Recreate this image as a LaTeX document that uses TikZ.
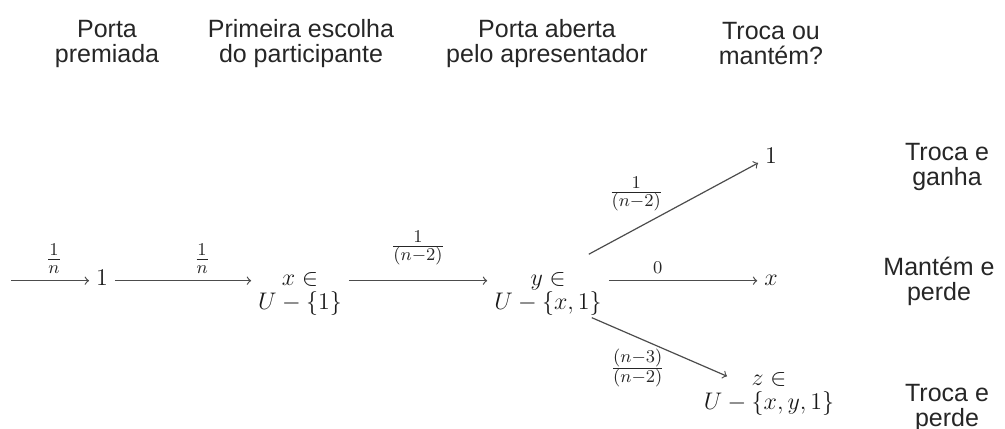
\documentclass[tikz,border=0pt]{standalone}
\usepackage[no-math]{fontspec}
\newfontfamily\hdrfont{Liberation Sans}
\begin{document}
\begin{tikzpicture}[x=0.5pt,y=-0.5pt,
  hdr/.style={font=\hdrfont\fontsize{12.5}{12.5}\selectfont, align=center, text=black!85, inner sep=0pt},
  mth/.style={font=\fontsize{13}{10.5}\selectfont, text=black!90},
  arr/.style={->, draw=black!70, line width=0.6pt},
  lbl/.style={font=\fontsize{13}{13}\selectfont, text=black!85}]
\useasboundingbox (0,0) rectangle (1005,428);
% headers (base anchor = baseline of the last line)
\node[hdr, anchor=base] (h1) at (107,62) {Porta\\premiada};
\node[hdr, anchor=base] (h2) at (301,62) {Primeira escolha\\do participante};
\node[hdr, anchor=base] (h3) at (547,62) {Porta aberta\\pelo apresentador};
\node[hdr, anchor=base] (h4) at (771,64) {Troca ou\\mantém?};
% outcomes
\node[hdr, anchor=base] (r1) at (947,185) {Troca e\\ganha};
\node[hdr, anchor=base] (r2) at (939,300) {Mantém e\\perde};
\node[hdr, anchor=base] (r3) at (947,426) {Troca e\\perde};
% math nodes
\node[mth, anchor=base] (one) at (102,285) {$1$};
\node[mth, anchor=base] (xn) at (300,285) {$\begin{array}[t]{@{}c@{}} x\in\\ U-\{1\}\end{array}$};
\node[mth, anchor=base] (yn) at (548,285) {$\begin{array}[t]{@{}c@{}} y\in\\ U-\{x,1\}\end{array}$};
\node[mth, anchor=base] (top) at (771,163) {$1$};
\node[mth, anchor=base] (xr) at (771,285) {$x$};
\node[mth, anchor=base] (zn) at (769,385) {$\begin{array}[t]{@{}c@{}} z\in\\ U-\{x,y,1\}\end{array}$};
\coordinate (start) at (11,0);
% connectors
\draw[arr] (start |- one.mid) -- node[lbl, pos=0.55, above] {$\frac{1}{n}$} (one.mid west);
\draw[arr] (one.mid east) -- node[lbl, pos=0.64, above] {$\frac{1}{n}$} (xn.mid west);
\draw[arr] (xn.mid east) -- node[lbl, pos=0.5, above=4pt] {$\frac{1}{(n-2)}$} (yn.mid west);
\draw[arr] ([shift={(-20,-9)}]yn.north east) -- node[lbl, pos=0.28, above=5pt] {$\frac{1}{(n-2)}$} (top.base west);
\draw[arr] (yn.mid east) -- node[lbl, pos=0.33, above] {$\scriptstyle 0$} (xr.mid west);
\draw[arr] ([shift={(-17,-5)}]yn.south east) -- node[lbl, pos=0.34, below=2pt] {$\frac{(n-3)}{(n-2)}$} ([shift={(-42,13)}]zn.north);
\end{tikzpicture}
\end{document}
